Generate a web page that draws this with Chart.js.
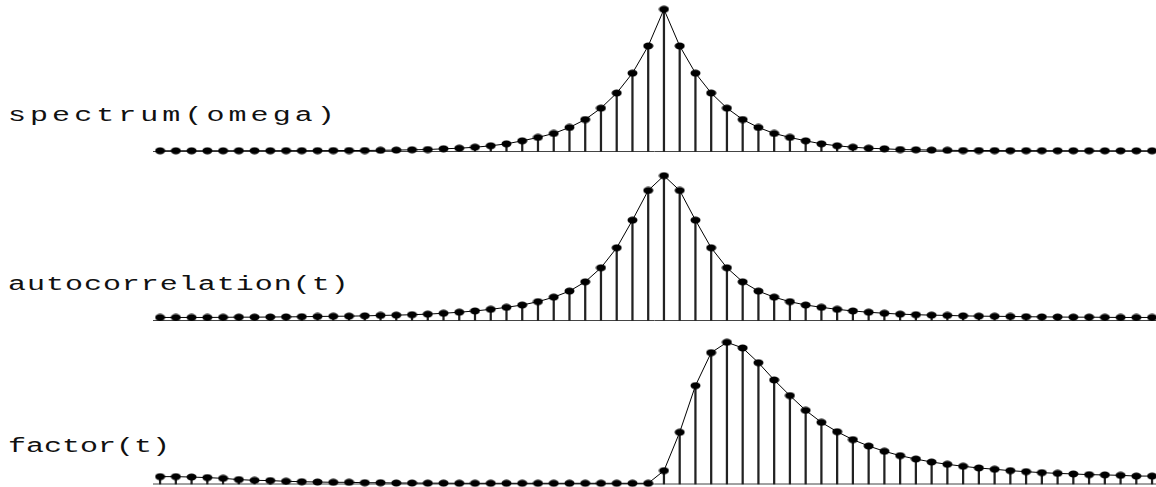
<!DOCTYPE html>
<html lang="en">
<head>
  <meta charset="UTF-8">
  <title>spectrum / autocorrelation / factor</title>
  <script src="https://cdn.jsdelivr.net/npm/chart.js"></script>
  <style>
    body, html {
      width: 1156px;
      height: 487px;
      margin: 0;
      padding: 0;
      overflow: hidden;
      background: #fff;
      position: relative;
    }
    canvas {
      position: absolute;
      left: 0;
    }
    .label {
      position: absolute;
      left: 8px;
      font-family: 'Liberation Mono', monospace;
      font-size: 20px;
      line-height: 20px;
      color: #111;
      white-space: nowrap;
      transform: scaleX(1.5);
      transform-origin: left top;
    }
  </style>
</head>
<body>
  <div class="label" style="top:105.7px; letter-spacing:2.7px;">spectrum(omega)</div>
  <div class="label" style="top:274.7px; letter-spacing:0.65px;">autocorrelation(t)</div>
  <div class="label" style="top:436.7px; letter-spacing:0px;">factor(t)</div>

  <canvas id="c1" width="1156" height="162" style="top:0px"></canvas>
  <canvas id="c2" width="1156" height="167" style="top:162px"></canvas>
  <canvas id="c3" width="1156" height="158" style="top:329px"></canvas>

  <script>
    // sample index 0..63
    const steps = Array.from({ length: 64 }, (_, i) => i);

    // values, normalised to the peak of each panel
    const spectrum = [
      0.005, 0.005, 0.005, 0.005, 0.005, 0.0055, 0.0055, 0.0055, 0.006, 0.006, 0.006, 0.0065, 0.007, 0.007, 0.0085, 0.010,
      0.012, 0.014, 0.019, 0.023, 0.030, 0.040, 0.054, 0.075, 0.099, 0.127, 0.169, 0.225, 0.305, 0.411, 0.551, 0.742,
      1.000, 0.742, 0.551, 0.411, 0.305, 0.225, 0.169, 0.127, 0.099, 0.075, 0.054, 0.040, 0.030, 0.023, 0.019, 0.014,
      0.012, 0.010, 0.0085, 0.007, 0.007, 0.0065, 0.006, 0.006, 0.006, 0.0055, 0.0055, 0.0055, 0.005, 0.005, 0.005, 0.005
    ];
    const autocorrelation = [
      0.021, 0.021, 0.021, 0.021, 0.022, 0.023, 0.023, 0.024, 0.025, 0.026, 0.028, 0.029, 0.030, 0.032, 0.035, 0.037,
      0.040, 0.044, 0.050, 0.057, 0.066, 0.077, 0.091, 0.107, 0.130, 0.161, 0.203, 0.267, 0.364, 0.502, 0.693, 0.898,
      1.000, 0.898, 0.693, 0.502, 0.364, 0.267, 0.203, 0.161, 0.130, 0.107, 0.091, 0.077, 0.066, 0.057, 0.050, 0.044,
      0.040, 0.037, 0.035, 0.032, 0.030, 0.029, 0.028, 0.026, 0.025, 0.024, 0.023, 0.023, 0.022, 0.021, 0.021, 0.021
    ];
    const factor = [
      0.052, 0.052, 0.049, 0.045, 0.040, 0.031, 0.026, 0.024, 0.019, 0.016, 0.014, 0.012, 0.012, 0.009, 0.009, 0.007,
      0.007, 0.006, 0.006, 0.005, 0.005, 0.005, 0.005, 0.005, 0.005, 0.005, 0.005, 0.005, 0.005, 0.005, 0.005, 0.005,
      0.094, 0.365, 0.694, 0.927, 1.000, 0.960, 0.856, 0.734, 0.624, 0.520, 0.435, 0.369, 0.313, 0.268, 0.231, 0.200,
      0.176, 0.155, 0.139, 0.125, 0.113, 0.104, 0.094, 0.087, 0.080, 0.075, 0.071, 0.066, 0.064, 0.061, 0.056, 0.056
    ];

    const xMin = -0.45;
    const xMax = 63.25;

    // filled dot used as the point marker
    const dot = document.createElement('canvas');
    dot.width = 11;
    dot.height = 8;
    const dctx = dot.getContext('2d');
    dctx.fillStyle = '#000';
    dctx.beginPath();
    dctx.ellipse(5.5, 4, 5, 3.4, 0, 0, Math.PI * 2);
    dctx.fill();

    function makePanel(id, values, padTop, padBottom) {
      const pts = steps.map((s, i) => ({ x: s, y: values[i] }));
      return new Chart(document.getElementById(id), {
        type: 'bar',
        data: {
          datasets: [
            {
              type: 'line',
              data: pts,
              borderColor: '#000',
              borderWidth: 1,
              pointStyle: dot,
              pointRadius: 4,
              tension: 0,
              clip: false,
              order: 0
            },
            {
              type: 'bar',
              data: pts,
              backgroundColor: '#222',
              barThickness: 1.6,
              clip: false,
              order: 1
            },
            {
              type: 'line',
              data: [{ x: xMin, y: 0 }, { x: xMax, y: 0 }],
              borderColor: '#444',
              borderWidth: 1,
              pointRadius: 0,
              clip: false,
              order: 2
            }
          ]
        },
        options: {
          responsive: false,
          maintainAspectRatio: false,
          devicePixelRatio: 1,
          animation: false,
          layout: {
            autoPadding: false,
            padding: { left: 153, right: 0, top: padTop, bottom: padBottom }
          },
          plugins: { legend: { display: false }, tooltip: { enabled: false } },
          scales: {
            x: { type: 'linear', min: xMin, max: xMax, offset: false, display: false },
            y: { min: 0, max: 1, display: false }
          }
        }
      });
    }

    makePanel('c1', spectrum, 9.3, 10.5);
    makePanel('c2', autocorrelation, 13.7, 8.5);
    makePanel('c3', factor, 13.3, 3);
  </script>
</body>
</html>
